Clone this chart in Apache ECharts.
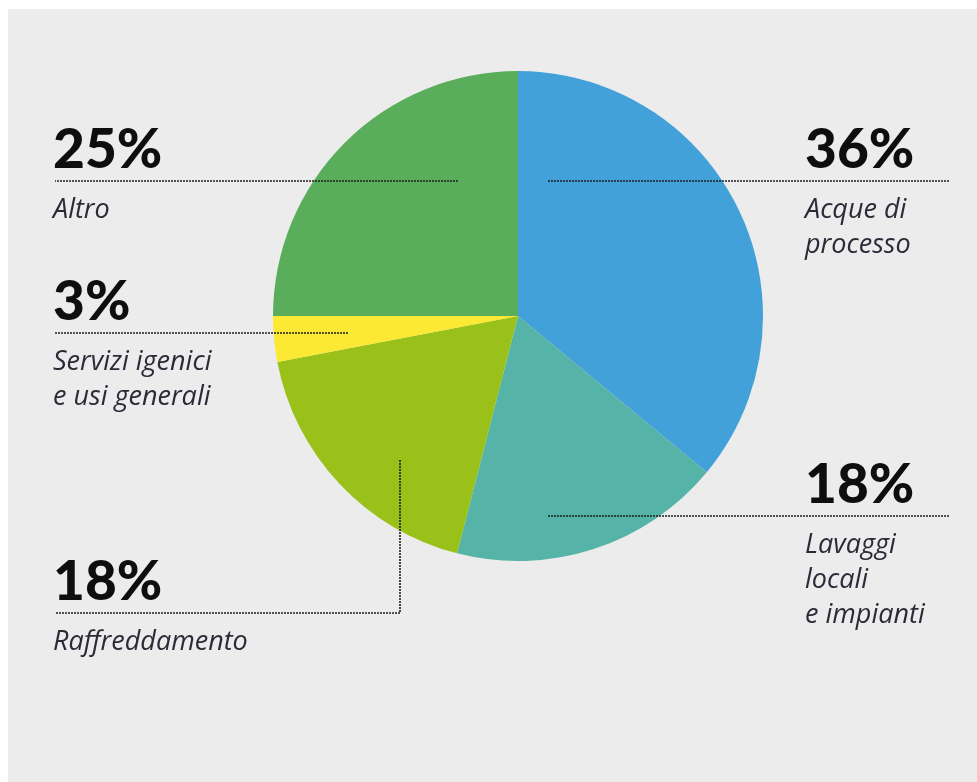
<!DOCTYPE html>
<html>
<head>
<meta charset="utf-8">
<script src="https://cdn.jsdelivr.net/npm/echarts@6/dist/echarts.min.js"></script>
<style>
html,body{margin:0;padding:0;background:#fff;}
#chart{width:977px;height:782px;}
</style>
</head>
<body>
<div id="chart"></div>
<script>
// ---- data ----
const categories = ['Acque di processo', 'Lavaggi locali e impianti', 'Raffreddamento', 'Servizi igenici e usi generali', 'Altro'];
const values = [36, 18, 18, 3, 25];
const percentLabels = ['36%', '18%', '18%', '3%', '25%'];
const nameLines = [['Acque di', 'processo'], ['Lavaggi', 'locali', 'e impianti'], ['Raffreddamento'], ['Servizi igenici', 'e usi generali'], ['Altro']];
const colors = ['#42A1D9', '#55B4A7', '#9AC119', '#FCE934', '#5AAD5A'];

// ---- label layout (positions only) ----
const labelPlacement = [
  { x: 805, lineY: 181, pts: [[548, 181], [750, 181], [950, 181]] },
  { x: 805, lineY: 516, pts: [[548, 516], [750, 516], [950, 516]] },
  { x: 53, lineY: 613, pts: [[400, 460], [400, 613], [55, 613]] },
  { x: 53, lineY: 333, pts: [[348, 333], [200, 333], [55, 333]] },
  { x: 53, lineY: 181, pts: [[458, 181], [300, 181], [55, 181]] }
];

const pieBase = {
  type: 'pie',
  center: [518, 316],
  radius: 245,
  startAngle: 90,
  clockwise: true,
  silent: true
};

const chart = echarts.init(document.getElementById('chart'));
const option = {
  backgroundColor: '#ffffff',
  animation: false,
  graphic: [{
    type: 'rect', z: -10, silent: true,
    shape: { x: 8, y: 9, width: 969, height: 773 },
    style: { fill: '#ECECEC' }
  }],
  series: [
    Object.assign({}, pieBase, {
      z: 2,
      itemStyle: { borderWidth: 0 },
      data: categories.map((c, i) => ({ name: c, value: values[i], itemStyle: { color: colors[i] } })),
      label: { show: false },
      labelLine: { show: false }
    }),
    Object.assign({}, pieBase, {
      z: 5,
      itemStyle: { color: 'rgba(0,0,0,0)', borderWidth: 0 },
      data: categories.map((c, i) => ({ name: c, value: values[i] })),
      label: {
        show: true,
        position: 'outer',
        formatter: p => '{p|' + percentLabels[p.dataIndex] + '}\n{s| }\n' + nameLines[p.dataIndex].map(t => '{n|' + t + '}').join('\n'),
        rich: {
          p: { fontFamily: 'Lato', fontWeight: 900, fontSize: 55, lineHeight: 62, color: '#0e0e0e' },
          s: { fontSize: 1, lineHeight: 12 },
          n: { fontFamily: 'Open Sans', fontStyle: 'italic', fontSize: 27, lineHeight: 35, color: '#2b2b38' }
        }
      },
      labelLine: {
        show: true,
        lineStyle: { color: '#1e1e1e', width: 1.6, type: [2, 1] }
      },
      labelLayout: function (params) {
        const L = labelPlacement[params.dataIndex];
        return {
          x: L.x,
          y: L.lineY - 62,
          align: 'left',
          verticalAlign: 'top',
          labelLinePoints: L.pts
        };
      }
    })
  ]
};
chart.setOption(option);
</script>
</body>
</html>
